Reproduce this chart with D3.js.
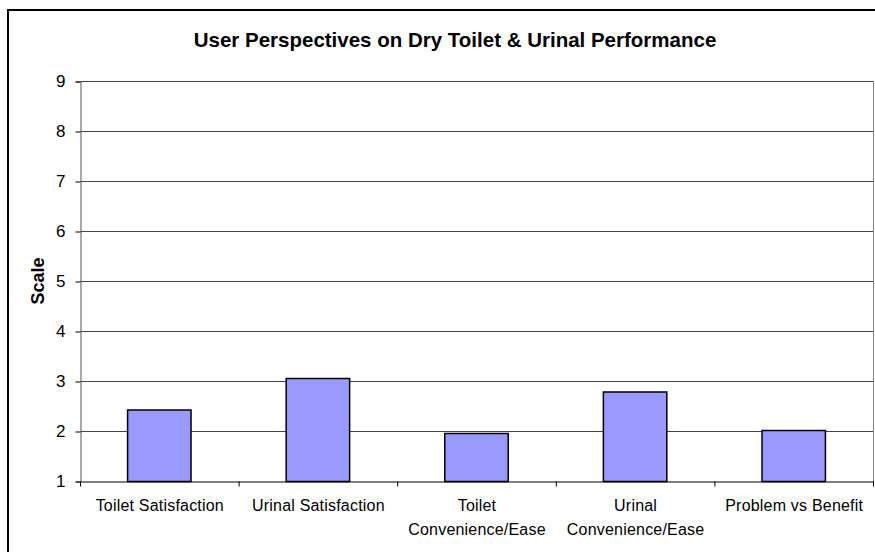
<!DOCTYPE html>
<html><head><meta charset="utf-8">
<script src="https://cdn.jsdelivr.net/npm/d3@7"></script>
<style>body{margin:0;background:#fff;} text{font-family:"Liberation Sans",Arial,sans-serif;}</style>
</head><body>
<svg id="c" width="875" height="552"></svg>
<script>
const categories = [["Toilet Satisfaction"],["Urinal Satisfaction"],["Toilet","Convenience/Ease"],["Urinal","Convenience/Ease"],["Problem vs Benefit"]];
const categoryKeys = ["Toilet Satisfaction","Urinal Satisfaction","Toilet Convenience/Ease","Urinal Convenience/Ease","Problem vs Benefit"];
const values = [2.43, 3.06, 1.96, 2.79, 2.02];
const yTicks = [1,2,3,4,5,6,7,8,9];
const title = "User Perspectives on Dry Toilet & Urinal Performance";
const yLabel = "Scale";

const svg = d3.select("#c");
const m = {left:80.5, right:873.5, top:81.5, bottom:481.5};

// frame
svg.append("path").attr("d", `M8,552 L8,10 L875,10`).attr("fill","none").attr("stroke","#000").attr("stroke-width",2);

const x = d3.scaleBand().domain(categoryKeys).range([m.left, m.right]).padding(0);
const y = d3.scaleLinear().domain([1,9]).range([m.bottom, m.top]);

// gridlines
svg.append("g").selectAll("line").data(yTicks.slice(1)).join("line")
  .attr("x1", m.left).attr("x2", m.right)
  .attr("y1", d=>y(d)).attr("y2", d=>y(d))
  .attr("stroke","#444").attr("stroke-width",1);
// plot border right
svg.append("line").attr("x1",m.right).attr("x2",m.right).attr("y1",m.top).attr("y2",m.bottom).attr("stroke","#888").attr("stroke-width",1);

// bars
const bw = x.bandwidth()*0.4;
svg.append("g").selectAll("rect").data(values).join("rect")
  .attr("x",(d,i)=>x(categoryKeys[i]) + (x.bandwidth()-bw)/2 - 0.5)
  .attr("width",bw)
  .attr("y",d=>y(d))
  .attr("height",d=>y(1)-y(d))
  .attr("fill","#9999FF").attr("stroke","#000").attr("stroke-width",1.5);

// y axis
const ya = svg.append("g").attr("transform",`translate(${m.left},0)`)
  .call(d3.axisLeft(y).tickValues(yTicks).tickFormat(d3.format("d")).tickSize(5).tickPadding(10));
ya.select(".domain").attr("stroke","#555");
ya.selectAll(".tick line").attr("stroke","#000");
ya.selectAll("text").attr("font-size",17).attr("fill","#000").style("font-family","Liberation Sans, Arial, sans-serif");

// x axis
const xa = svg.append("g").attr("transform",`translate(0,${m.bottom})`)
  .call(d3.axisBottom(x).tickValues([]).tickSizeOuter(0));
xa.select(".domain").attr("stroke","#000").attr("stroke-width",1.2);
// category boundary ticks
const bounds = categoryKeys.map(k=>x(k)).concat([x.range()[1]]);
xa.selectAll("line.bt").data(bounds).join("line").attr("class","bt")
  .attr("x1",d=>d).attr("x2",d=>d).attr("y1",0).attr("y2",5).attr("stroke","#000");

// x labels
const lab = svg.append("g").selectAll("text").data(categories).join("text")
  .attr("text-anchor","middle").attr("font-size",16).attr("letter-spacing","0.2px").attr("fill","#000");
lab.each(function(lines,i){
  const t = d3.select(this);
  lines.forEach((l,j)=>{
    t.append("tspan").attr("x", x(categoryKeys[i]) + x.bandwidth()/2).attr("y", 511 + j*24).text(l);
  });
});

// title
svg.append("text").attr("x",455).attr("y",47).attr("text-anchor","middle")
  .attr("font-size",20.5).attr("font-weight","bold").text(title);

// y label
svg.append("text").attr("transform",`translate(44,281) rotate(-90)`)
  .attr("text-anchor","middle").attr("font-size",18).attr("font-weight","bold").text(yLabel);
</script>
</body></html>
